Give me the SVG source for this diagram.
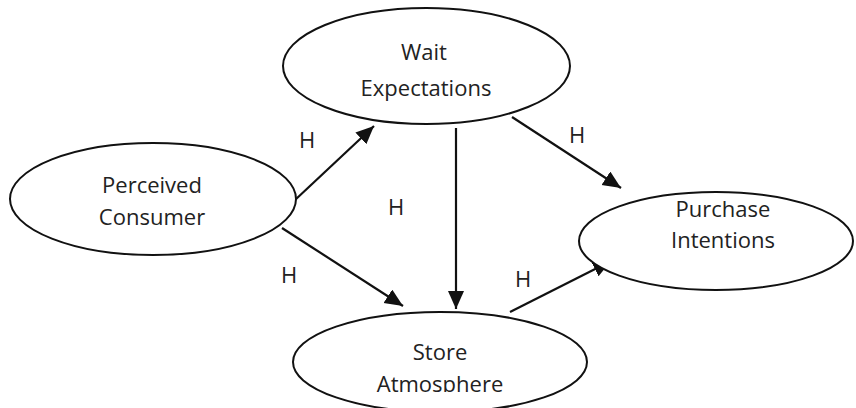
<svg xmlns="http://www.w3.org/2000/svg" width="856" height="408" viewBox="0 0 856 408">
  <defs>
    <style>
      .node ellipse { fill: #ffffff; stroke: #111111; stroke-width: 2; }
      .label { font-family: "Open Sans", "Noto Sans", "Liberation Sans", sans-serif; font-size: 22px; fill: #222222; text-anchor: middle; }
      .edge { stroke: #111111; stroke-width: 2.2; fill: none; marker-end: url(#arrow); }
    </style>
    <marker id="arrow" markerUnits="userSpaceOnUse" markerWidth="20" markerHeight="18" refX="18" refY="8" orient="auto">
      <path d="M0,0 L18,8 L0,16 Z" fill="#111111"/>
    </marker>
    <clipPath id="clip-store-text">
      <rect x="280" y="300" width="330" height="92"/>
    </clipPath>
  </defs>

  <rect width="856" height="408" fill="#ffffff"/>

  <g id="connectors">
    <line class="edge" x1="295" y1="200" x2="374" y2="126"/>
    <line class="edge" x1="282" y1="228" x2="403" y2="306"/>
    <line class="edge" x1="456" y1="128" x2="456" y2="309"/>
    <line class="edge" x1="512" y1="117" x2="621" y2="188"/>
    <line class="edge" x1="510" y1="312" x2="611" y2="261"/>
  </g>

  <g id="edge-labels">
    <text class="label" x="307" y="148">H</text>
    <text class="label" x="396" y="215">H</text>
    <text class="label" x="289" y="283">H</text>
    <text class="label" x="577" y="143">H</text>
    <text class="label" x="523" y="287">H</text>
  </g>

  <g id="node-wait" class="node">
    <ellipse cx="426.5" cy="66" rx="143.5" ry="58"/>
    <text class="label" x="424" y="60">Wait</text>
    <text class="label" x="426" y="96">Expectations</text>
  </g>

  <g id="node-perceived" class="node">
    <ellipse cx="153" cy="199" rx="143" ry="56"/>
    <text class="label" x="152" y="193">Perceived</text>
    <text class="label" x="152" y="225">Consumer</text>
  </g>

  <g id="node-purchase" class="node">
    <ellipse cx="716" cy="241" rx="137" ry="49"/>
    <text class="label" x="723" y="217">Purchase</text>
    <text class="label" x="723" y="248">Intentions</text>
  </g>

  <g id="node-store" class="node">
    <ellipse cx="440" cy="362" rx="147" ry="50"/>
    <g clip-path="url(#clip-store-text)">
      <text class="label" x="440" y="360">Store</text>
      <text class="label" x="440" y="392">Atmosphere</text>
    </g>
  </g>
</svg>
